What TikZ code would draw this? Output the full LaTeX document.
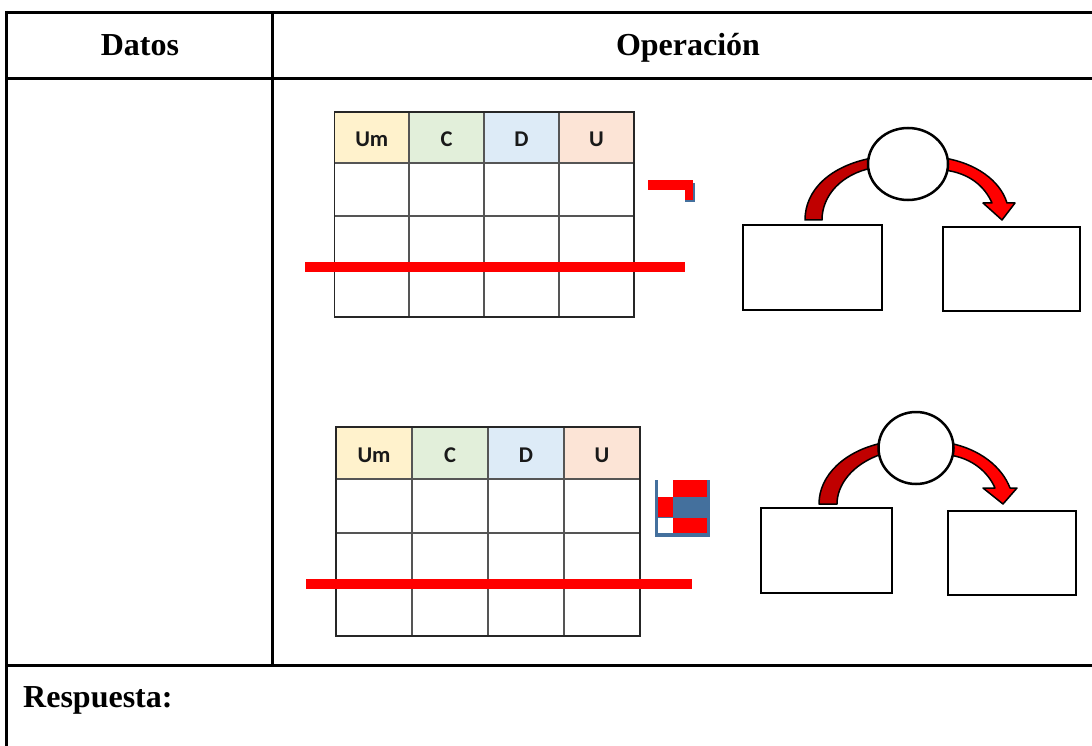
\documentclass[tikz,border=0pt]{standalone}
\usepackage{fontspec}
\setmainfont{Liberation Serif}
\newfontfamily\calib{Carlito}
\usetikzlibrary{shapes.geometric}
\definecolor{cum}{HTML}{FFF2CC}
\definecolor{cc}{HTML}{E2EFDA}
\definecolor{cd}{HTML}{DDEBF7}
\definecolor{cu}{HTML}{FCE4D6}
\definecolor{dred}{HTML}{C00000}
\definecolor{sblue}{HTML}{44709D}
\definecolor{gridgray}{HTML}{555555}
\begin{document}
\begin{tikzpicture}[x=1pt,y=-1pt,
  frame/.style={line width=3pt, black},
  head/.style={font=\fontsize{32}{36}\selectfont\bfseries, anchor=base, inner sep=0pt},
  colhead/.style={font=\calib\bfseries\fontsize{22.5}{26}\selectfont, text=black!90, inner sep=0pt},
  gridline/.style={line width=1.2pt, gridgray},
  outline/.style={line width=1.2pt, black!85},
  opbox/.style={draw, line width=2.8pt, rectangle, inner sep=0pt},
  opcirc/.style={draw, line width=2.5pt, ellipse, fill=white, inner sep=0pt},
  arrowbody/.style={draw=black, line width=1.5pt, line join=round}]
\useasboundingbox (0,0) rectangle (1092,746);
\fill[white] (0,0) rectangle (1092,746);

% outer frame
\draw[frame] (5,12.5) -- (1092,12.5);
\draw[frame] (5,78.5) -- (1092,78.5);
\draw[frame] (5,665.5) -- (1092,665.5);
\draw[frame] (6.5,11) -- (6.5,746);
\draw[frame] (272.5,11) -- (272.5,667);

\node[head] (datos) at (140,56) {Datos};
\node[head] (oper) at (688,56) {Operación};
\node[head, anchor=base west] (resp) at (23,707) {Respuesta:};

% table 1
\fill[cum] (334.5,112) rectangle (409,163);
\fill[cc] (409,112) rectangle (484,163);
\fill[cd] (484,112) rectangle (559,163);
\fill[cu] (559,112) rectangle (634,163);
\foreach \x in {409,484,559} \draw[gridline] (\x,112) -- (\x,317);
\foreach \y in {163,216,267} \draw[gridline] (334.5,\y) -- (634,\y);
\draw[outline] (334.5,112) rectangle (634,317);
\node[colhead] (aum) at (371.75,139) {Um};
\node[colhead] (ac) at (446.5,139) {C};
\node[colhead] (ad) at (521.5,139) {D};
\node[colhead] (au) at (596.5,139) {U};
\fill[red] (305,262) rectangle (685,272);

% table 2
\fill[cum] (336,427) rectangle (412,479);
\fill[cc] (412,427) rectangle (488,479);
\fill[cd] (488,427) rectangle (564,479);
\fill[cu] (564,427) rectangle (640,479);
\foreach \x in {412,488,564} \draw[gridline] (\x,427) -- (\x,636);
\foreach \y in {479,533,584} \draw[gridline] (336,\y) -- (640,\y);
\draw[outline] (336,427) rectangle (640,636);
\node[colhead] (bum) at (374,455) {Um};
\node[colhead] (bc) at (450,455) {C};
\node[colhead] (bd) at (526,455) {D};
\node[colhead] (bu) at (602,455) {U};
\fill[red] (306,579) rectangle (692,589);

% small symbol 1
\fill[sblue] (685,183) rectangle (695,202);
\fill[red] (648,180) rectangle (693,190);
\fill[red] (685,180) rectangle (693,200);

% small symbol 2
\fill[sblue] (655,480) rectangle (710,537);
\fill[white] (658,480) rectangle (673,497);
\fill[red] (673,480) rectangle (707,497);
\fill[red] (658,497) rectangle (673,517);
\fill[white] (658,518) rectangle (673,533);
\fill[red] (673,518) rectangle (707,533);

% diagram 1
\filldraw[fill=dred, arrowbody] (872,158) .. controls (830,166) and (805,190) .. (805,220) -- (822,220) .. controls (822,195) and (842,174) .. (872,168) -- cycle;
\filldraw[fill=red, arrowbody] (944,158) .. controls (975,163) and (1000,180) .. (1007,203) -- (1015,203) -- (1002,220) -- (983,203) -- (992,203) .. controls (985,187) and (970,173) .. (944,170) -- cycle;
\node[opcirc, minimum width=80pt, minimum height=72pt] (e1) at (908,164) {};
\node[opbox, minimum width=139pt, minimum height=85pt] (l1) at (812.5,267.5) {};
\node[opbox, minimum width=137pt, minimum height=84pt] (r1) at (1011.5,269) {};

% diagram 2
\filldraw[fill=dred, arrowbody] (882,443) .. controls (845,451) and (819,475) .. (819,504) -- (837,504) .. controls (837,485) and (852,464) .. (882,454) -- cycle;
\filldraw[fill=red, arrowbody] (949,443) .. controls (980,449) and (1002,467) .. (1010,488) -- (1017,488) -- (1003,504) -- (983,488) -- (995,488) .. controls (988,472) and (972,458) .. (949,455) -- cycle;
\node[opcirc, minimum width=75pt, minimum height=72pt] (e2) at (916,448) {};
\node[opbox, minimum width=131pt, minimum height=85pt] (l2) at (826.5,550.5) {};
\node[opbox, minimum width=128pt, minimum height=84pt] (r2) at (1012,553) {};
\end{tikzpicture}
\end{document}
